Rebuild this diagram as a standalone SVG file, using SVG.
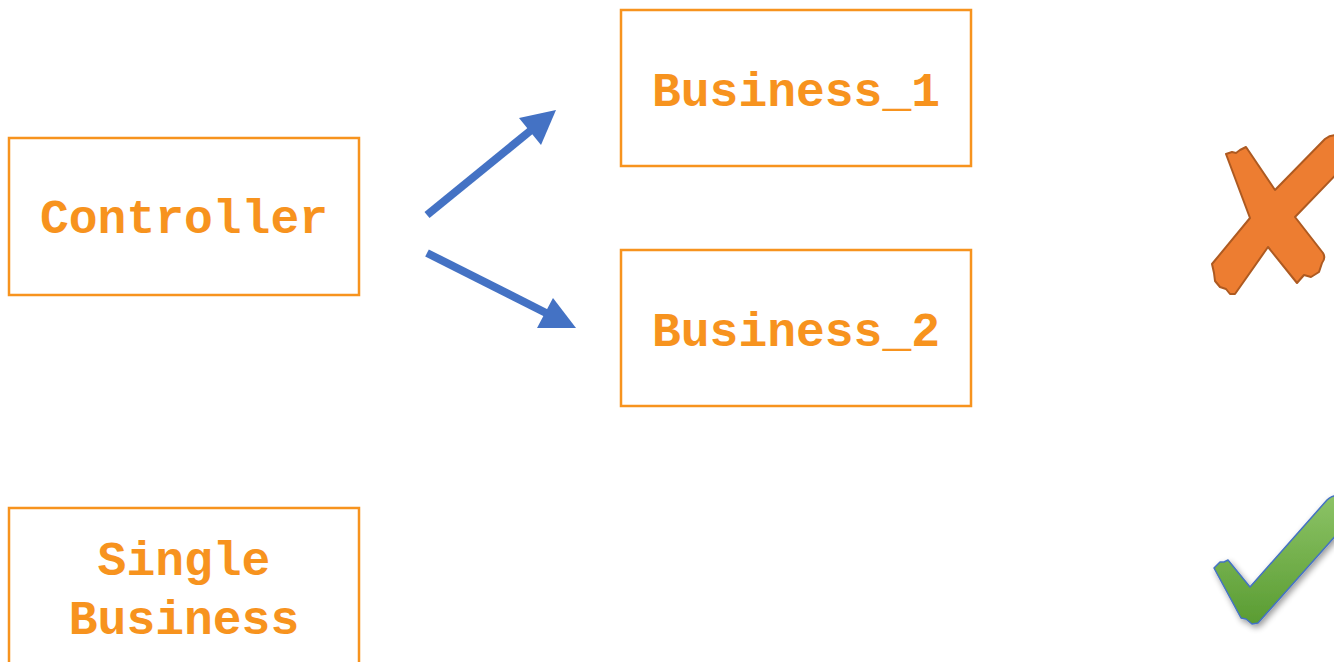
<svg xmlns="http://www.w3.org/2000/svg" width="1334" height="662" viewBox="0 0 1334 662">
<style>
.box{fill:#fff;stroke:#F7931E;stroke-width:2.5}
.lbl{font-family:"Liberation Mono","Courier New",monospace;font-weight:bold;font-size:48px;fill:#F7931E;text-anchor:middle}
.conn{stroke:#4472C4;stroke-width:8;fill:none}
.head{fill:#4472C4}
</style>
<defs>
<linearGradient id="gg" x1="0" y1="0" x2="0" y2="1">
<stop offset="0" stop-color="#8CC366"/>
<stop offset="1" stop-color="#5A9C32"/>
</linearGradient>
<filter id="sh" x="-30%" y="-30%" width="160%" height="160%">
<feGaussianBlur in="SourceAlpha" stdDeviation="3"/>
<feOffset dx="2" dy="3" result="b"/>
<feComponentTransfer><feFuncA type="linear" slope="0.4"/></feComponentTransfer>
<feMerge><feMergeNode/><feMergeNode in="SourceGraphic"/></feMerge>
</filter>
</defs>
<g id="controller">
<rect class="box" x="9" y="138" width="350" height="157"/>
<text class="lbl" x="184" y="233">Controller</text>
</g>
<g id="business1">
<rect class="box" x="621" y="10" width="350" height="156"/>
<text class="lbl" x="796" y="106">Business_1</text>
</g>
<g id="business2">
<rect class="box" x="621" y="250" width="350" height="156"/>
<text class="lbl" x="796" y="346">Business_2</text>
</g>
<g id="single">
<rect class="box" x="9" y="508" width="350" height="170"/>
<text class="lbl" x="184" y="575">Single</text>
<text class="lbl" x="184" y="634">Business</text>
</g>
<g id="connectors">
<line class="conn" x1="427" y1="215" x2="535" y2="127"/>
<polygon class="head" points="556,110 519,118 541,145"/>
<line class="conn" x1="427" y1="253" x2="552" y2="316"/>
<polygon class="head" points="576,328 537,328 553,298"/>
</g>
<g id="cross">
<path d="M1226,154 L1232,152 L1236,153 L1240,150 L1246,147 L1275,190 L1325,139 Q1335,131 1345,140 L1350,160 L1295,217 L1323,253 Q1326,258 1322,263 L1319,272 L1311,277 L1304,275 L1297,283 L1268,247 L1235,294 L1230,294 L1226,289 L1220,287 L1215,281 L1214,273 L1212,264 L1250,218 Z" fill="#ED7D31" stroke="#AE5A21" stroke-width="2" stroke-linejoin="round"/>
</g>
<g id="check" filter="url(#sh)">
<path d="M1214,568 L1220,562 L1224,562 L1228,560 L1250,587 L1327,500 Q1334,493 1345,497 L1345,525 L1258,623 L1252,624 L1246,619 L1241,618 Z" fill="url(#gg)" stroke="#4472C4" stroke-width="1.5" stroke-linejoin="round"/>
</g>
</svg>
